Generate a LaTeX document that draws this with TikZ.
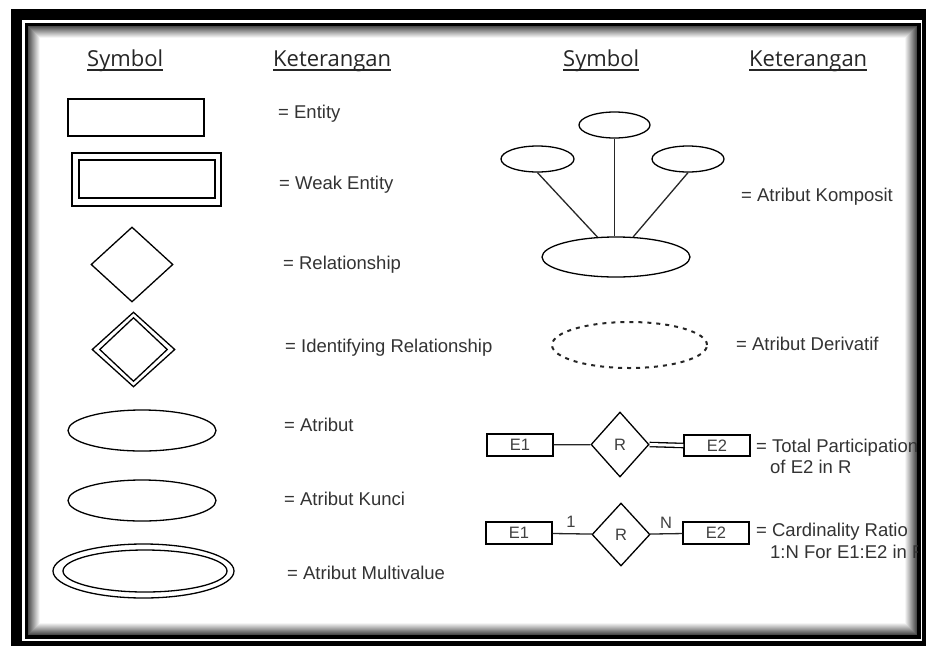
\documentclass[tikz,border=0pt]{standalone}
\usepackage{fontspec}
\setmainfont{Liberation Sans}
\newfontfamily\headfont{Open Sans}
\usetikzlibrary{shapes.geometric}
\begin{document}
\begin{tikzpicture}[x=1pt,y=-1pt,
  shp/.style={draw=black, line width=1.3pt, inner sep=0pt, fill=white},
  ent/.style={shp, rectangle, font=\fontsize{16.5}{18}\selectfont, text=black!75},
  rel/.style={shp, diamond, font=\fontsize{16.5}{18}\selectfont, text=black!75},
  attr/.style={shp, ellipse},
  lab/.style={font=\fontsize{18.5}{21}\selectfont, inner sep=0pt, anchor=base west, text=black!80},
  head/.style={font=\headfont\fontsize{22}{25}\selectfont, inner sep=0pt, anchor=base west, text=black!85},
  conn/.style={line width=1.3pt, draw=black!85},
  card/.style={font=\fontsize{16.5}{18}\selectfont, inner sep=0pt, text=black!75}]
\useasboundingbox (0,0) rectangle (926,646);
% frame
\fill[white] (0,0) rectangle (926,646);
\fill[black] (11,9) rectangle (926,646);
\fill[white] (22,20) rectangle (922,641);
\fill[black] (25,23) rectangle (921,639);
\foreach \i in {0,...,12} {
  \pgfmathtruncatemacro\g{max(0,70-\i*6)}
  \fill[black!\g] (28+\i,26+\i) rectangle (917-\i,635-\i);
}
\begin{scope}
\clip (28,26) rectangle (917,635);
% headings
\node[head] (h1) at (87,66) {Symbol};
\node[head] (h2) at (273,66) {Keterangan};
\node[head] (h3) at (563,66) {Symbol};
\node[head] (h4) at (749,66) {Keterangan};
\foreach \h in {h1,h2,h3,h4}
  \draw[line width=1.1pt, black!85] ([yshift=-4pt]\h.base west) -- ([yshift=-4pt]\h.base east);
% left column symbols
\node[ent, minimum width=136pt, minimum height=37pt] (entity) at (136,117.5) {};
\node[ent, minimum width=149pt, minimum height=53pt] (weako) at (146.5,179.5) {};
\node[ent, line width=2pt, minimum width=136pt, minimum height=38pt] (weaki) at (147,179) {};
\node[rel, minimum width=82pt, minimum height=75pt] (relat) at (132,264.5) {};
\node[rel, minimum width=83pt, minimum height=75pt] (idrelo) at (133.5,349.5) {};
\node[rel, minimum width=68pt, minimum height=64pt] (idreli) at (133.5,349.5) {};
\node[attr, minimum width=148pt, minimum height=41pt] (atr) at (142,430.5) {};
\node[attr, minimum width=148pt, minimum height=41pt] (atrk) at (142,500.5) {};
\node[attr, minimum width=181pt, minimum height=54pt] (multo) at (143.5,571) {};
\node[attr, minimum width=164pt, minimum height=42pt] (multi) at (145,571) {};
% left labels
\node[lab] (l1) at (278,118) {= Entity};
\node[lab] (l2) at (279,189) {= Weak Entity};
\node[lab] (l3) at (283,269) {= Relationship};
\node[lab] (l4) at (285,352) {= Identifying Relationship};
\node[lab] (l5) at (284,431) {= Atribut};
\node[lab] (l6) at (284,505) {= Atribut Kunci};
\node[lab] (l7) at (287,579) {= Atribut Multivalue};
% composite attribute
\node[attr, minimum width=71pt, minimum height=26pt] (ct) at (614.5,125) {};
\node[attr, minimum width=73pt, minimum height=26pt] (cl) at (537.5,159) {};
\node[attr, minimum width=72pt, minimum height=26pt] (cr) at (688,159) {};
\node[attr, minimum width=148pt, minimum height=40pt] (cb) at (616,257) {};
\draw[conn] (ct) -- (ct |- cb.north);
\draw[conn] (cl.south) -- (cb);
\draw[conn] (cr.south) -- (cb);
\node[lab] (r1) at (741,201) {= Atribut Komposit};
% derived attribute
\node[attr, draw=black!85, line width=2pt, dash pattern=on 4pt off 5pt, minimum width=155pt, minimum height=46pt] (der) at (629.5,345) {};
\node[lab] (r2) at (736,350) {= Atribut Derivatif};
% total participation
\node[ent, minimum width=66pt, minimum height=22pt] (e1a) at (520,445) {E1};
\node[rel, minimum width=58pt, minimum height=65pt] (ra) at (620,444.5) {R};
\node[ent, minimum width=66pt, minimum height=21pt] (e2a) at (717,445.5) {E2};
\draw[conn] (e1a) -- (ra);
\draw[line width=1.3pt, draw=black, double=white, double distance=3pt] (ra.east) -- (e2a.west);
\node[lab] (r3) at (756,452) {= Total Participation};
\node[lab] (r3b) at (770,473) {of E2 in R};
% cardinality ratio
\node[ent, minimum width=66pt, minimum height=22pt] (e1b) at (519,533) {E1};
\node[rel, minimum width=58pt, minimum height=63pt] (rb) at (621,534.5) {R};
\node[ent, minimum width=66pt, minimum height=22pt] (e2b) at (716,533) {E2};
\draw[conn] (e1b) -- (rb);
\draw[conn] (rb) -- (e2b);
\node[card] (c1) at (571,522) {1};
\node[card] (cn) at (666,523) {N};
\node[lab] (r4) at (756,536) {= Cardinality Ratio};
\node[lab] (r4b) at (770,558) {1:N For E1:E2 in R};
\end{scope}
\end{tikzpicture}
\end{document}
